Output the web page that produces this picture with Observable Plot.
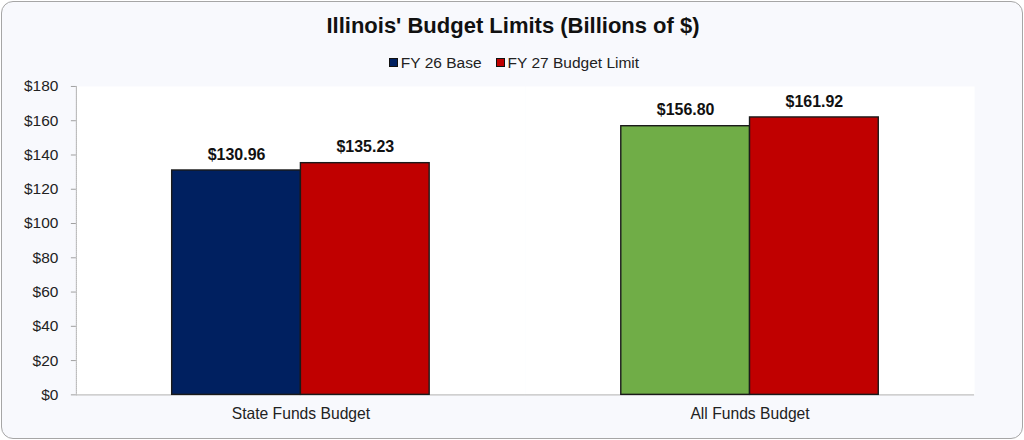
<!DOCTYPE html>
<html>
<head>
<meta charset="utf-8">
<script src="https://cdn.jsdelivr.net/npm/d3@7"></script>
<script src="https://cdn.jsdelivr.net/npm/@observablehq/plot@0.6"></script>
<style>
  html, body { margin: 0; padding: 0; background: #ffffff; }
  #card {
    position: absolute; left: 1px; top: 1px; width: 1020px; height: 436px;
    border: 1px solid #a6a6a6; border-radius: 12px; background: #f8f9fd;
    font-family: "Liberation Sans", Arial, sans-serif; color: #222;
    overflow: hidden;
  }
  #title {
    position: absolute; left: 0; width: 1022px; top: 11px; text-align: center;
    font-weight: bold; font-size: 22px; color: #111;
  }
  #legend {
    position: absolute; left: 0; width: 1026px; top: 52px; text-align: center;
    font-size: 15.5px; color: #222;
  }
  .li { display: inline-block; margin: 0 8px 0 6px; }
  .sw { display: inline-block; width: 7px; height: 7px; border: 1px solid #111; margin-right: 3px; vertical-align: 1px; }
  #chart { position: absolute; left: -2px; top: 67px; }
</style>
</head>
<body>
<div id="card">
  <div id="title">Illinois' Budget Limits (Billions of $)</div>
  <div id="legend"></div>
  <div id="chart"></div>
</div>
<script>
const categories = ["State Funds Budget", "All Funds Budget"];
const series = ["FY 26 Base", "FY 27 Budget Limit"];
const fy26Base = [130.96, 156.80];
const fy27Limit = [135.23, 161.92];
const yTicks = [0, 20, 40, 60, 80, 100, 120, 140, 160, 180];

const seriesColors = ["#002060", "#c00000"];
const highlightColor = "#70ad47"; // All Funds FY 26 bar

const data = [];
categories.forEach((c, i) => {
  data.push({category: c, series: series[0], value: fy26Base[i]});
  data.push({category: c, series: series[1], value: fy27Limit[i]});
});
const fillOf = d => (d.category === categories[1] && d.series === series[0])
  ? highlightColor
  : seriesColors[series.indexOf(d.series)];

// legend
const legend = document.getElementById("legend");
series.forEach((s, i) => {
  const span = document.createElement("span");
  span.className = "li";
  span.innerHTML = `<span class="sw" style="background:${seriesColors[i]}"></span>${s}`;
  legend.appendChild(span);
});

const fmt = d => "$" + d;

let leftLine;
try {
  leftLine = Plot.frame({anchor: "left", facet: "super", stroke: "#b0b0b0", strokeDasharray: "1,1"});
} catch (e) { leftLine = null; }

const chart = Plot.plot({
  width: 1024,
  height: 362,
  marginTop: 17,
  marginBottom: 36,
  marginLeft: 76,
  marginRight: 48,
  style: {background: "transparent", fontFamily: "'Liberation Sans', Arial, sans-serif", fontSize: "15px", color: "#222"},
  fx: {domain: categories, padding: 0, label: null, axis: null},
  x: {domain: series, paddingInner: 0, paddingOuter: 0.744, axis: null},
  y: {domain: [0, 180], label: null, axis: null},
  color: {type: "identity"},
  marks: [
    Plot.frame({fill: "white", stroke: "none"}),
    leftLine,
    Plot.axisY({ticks: yTicks, tickFormat: fmt, tickSize: 5, tickPadding: 13, stroke: "#a0a0a0", label: null, fontSize: 15.5}),
    Plot.axisFx({anchor: "bottom", tickSize: 0, tickPadding: 13, label: null, fontSize: 15.7}),
    Plot.ruleY([0], {stroke: "#c0c0c0", strokeWidth: 1.2}),
    Plot.barY(data, {fx: "category", x: "series", y: "value", fill: fillOf, stroke: "#1a1a1a", strokeWidth: 1.4}),
    Plot.text(data, {fx: "category", x: "series", y: "value", text: d => "$" + d.value.toFixed(2), dy: -16, fontWeight: "bold", fontSize: 16, fill: "#111"})
  ].filter(Boolean)
});
document.getElementById("chart").appendChild(chart);
</script>
</body>
</html>
